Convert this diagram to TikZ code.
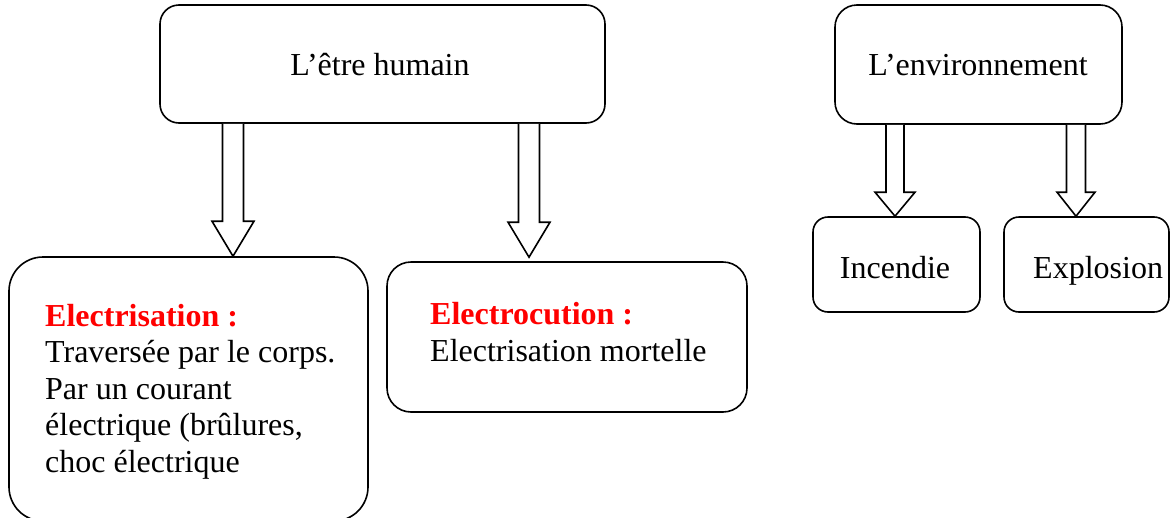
\documentclass[tikz,border=0pt]{standalone}
\usepackage{fontspec}
\setmainfont{Liberation Serif}
\usetikzlibrary{calc,positioning}
\definecolor{hdred}{RGB}{255,0,0}
\tikzset{
  box/.style={draw=black, line width=1.6pt, rectangle, inner sep=0pt, fill=white},
  lbl/.style={inner sep=0pt, font=\fontsize{32}{36.4}\selectfont, text=black},
  barrow/.style={draw=black, line width=1.6pt, fill=white, line join=miter},
}
% block arrow: #1 start coord, #2 tip coord, #3 shaft half width, #4 head half width, #5 head length
\newcommand\blkarrow[5]{%
  \draw[barrow] let \p1=(#1), \p2=(#2) in
    (\x1-#3,\y1) -- (\x1-#3,\y2+#5) -- (\x1-#4,\y2+#5) -- (\x1,\y2)
    -- (\x1+#4,\y2+#5) -- (\x1+#3,\y2+#5) -- (\x1+#3,\y1);}
\begin{document}
\begin{tikzpicture}[x=1pt,y=-1pt]
\useasboundingbox (0,0) rectangle (1170,517);
% boxes
\node[box, rounded corners=19pt, minimum width=445pt, minimum height=118pt] (hum) at (382.5,64) {};
\node[box, rounded corners=22pt, minimum width=287pt, minimum height=119pt] (env) at (978.5,64.5) {};
\node[box, rounded corners=15pt, minimum width=167pt, minimum height=95pt] (inc) at (896.5,264.5) {};
\node[box, rounded corners=15pt, minimum width=165pt, minimum height=95pt] (exp) at (1086.5,264.5) {};
\node[box, rounded corners=34pt, minimum width=359pt, minimum height=264pt] (ela) at (188.5,389) {};
\node[box, rounded corners=24pt, minimum width=360pt, minimum height=150pt] (elo) at (567,337) {};
% texts
\node[lbl, anchor=base] (thum) at (380,75) {L’être humain};
\node[lbl, anchor=base] (tenv) at (978,75) {L’environnement};
\node[lbl, anchor=base] (tinc) at (895,278) {Incendie};
\node[lbl, anchor=base west] (texp) at (1033,278) {Explosion};
\node[lbl, anchor=base west, align=left] (tela) at (45,472)
  {{\bfseries\color{hdred}Electrisation :}\\Traversée par le corps.\\Par un courant\\électrique (brûlures,\\choc électrique};
\node[lbl, anchor=base west, align=left] (telo) at (430,361)
  {{\bfseries\color{hdred}Electrocution :}\\Electrisation mortelle};
% arrow x positions
\coordinate (xa) at (233,0);
\coordinate (xb) at (529,0);
\coordinate (xc) at (895,0);
\coordinate (xd) at (1076,0);
\coordinate (sa) at (xa |- hum.south);
\coordinate (ta) at (xa |- ela.north);
\coordinate (sb) at (xb |- hum.south);
\coordinate (tb) at ($(xb |- elo.north)+(0,-4)$);
\coordinate (sc) at (xc |- env.south);
\coordinate (tc) at (xc |- inc.north);
\coordinate (sd) at (xd |- env.south);
\coordinate (td) at (xd |- exp.north);
\blkarrow{sa}{ta}{10.5pt}{21pt}{35pt}
\blkarrow{sb}{tb}{10.5pt}{21pt}{35pt}
\blkarrow{sc}{tc}{9pt}{20pt}{24pt}
\blkarrow{sd}{td}{9.5pt}{19pt}{24pt}
\end{tikzpicture}
\end{document}
